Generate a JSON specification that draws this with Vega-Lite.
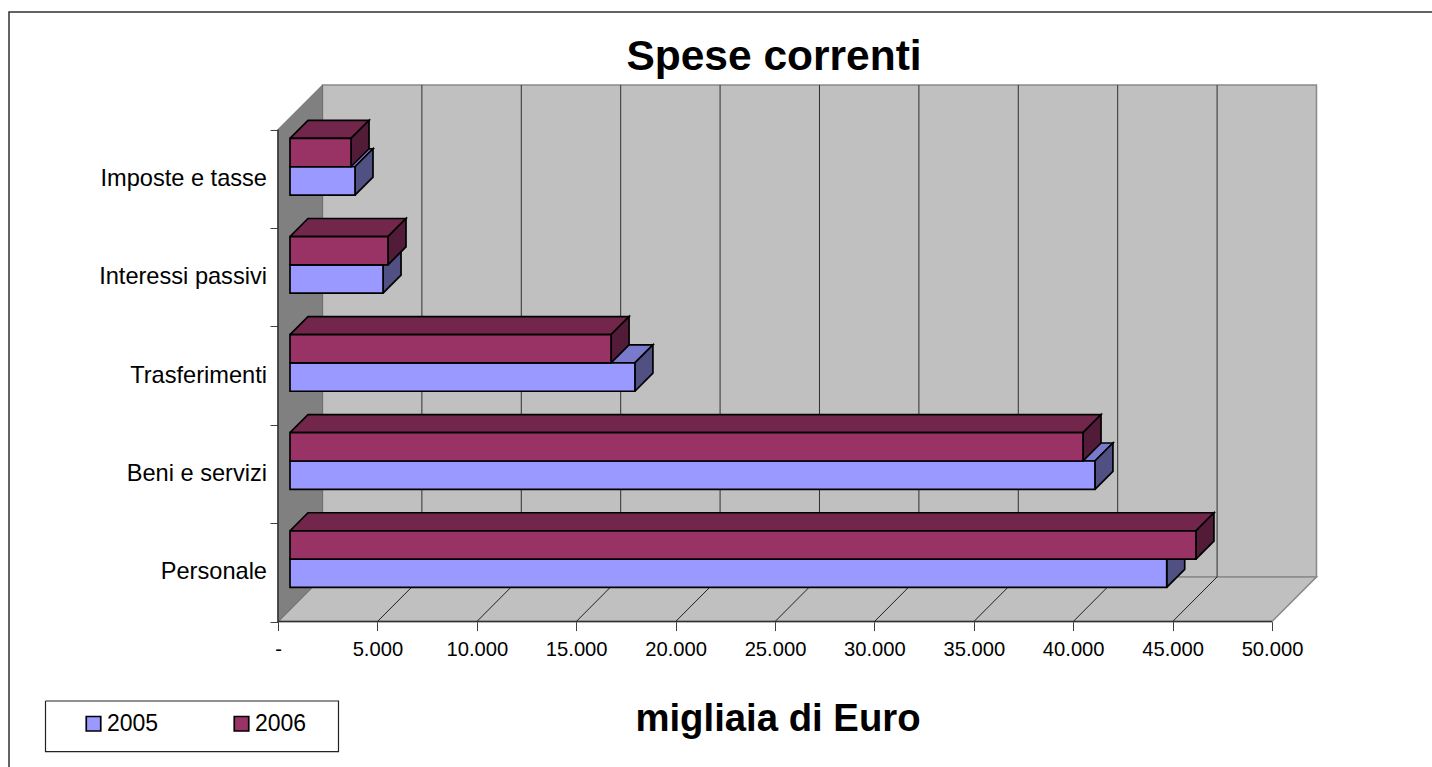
{
"$schema":"https://vega.github.io/schema/vega-lite/v6.json",
"width":1423,"height":755,
"autosize":{"type":"none"},
"padding":{"left":9,"top":12,"right":0,"bottom":0},
"background":"white",
"config":{"view":{"stroke":null},"font":"Liberation Sans"},
"title":{"text":"Spese correnti","font":"Liberation Sans","fontSize":42.5,"fontWeight":"bold","color":"#000000","anchor":"middle","dx":53.5,"offset":-103,"baseline":"alphabetic"},
"datasets":{
"pareti":[
{"parete":"fondo","k":0,"x":2238,"y":0.4545},{"parete":"fondo","k":1,"x":52238,"y":0.4545},{"parete":"fondo","k":2,"x":52238,"y":5.452},{"parete":"fondo","k":3,"x":2238,"y":5.452},{"parete":"fondo","k":4,"x":2238,"y":0.4545},
{"parete":"pavimento","k":0,"x":0,"y":0},{"parete":"pavimento","k":1,"x":2238,"y":0.4545},{"parete":"pavimento","k":2,"x":52238,"y":0.4545},{"parete":"pavimento","k":3,"x":50000,"y":0},{"parete":"pavimento","k":4,"x":0,"y":0},
{"parete":"sinistra","k":0,"x":0,"y":0},{"parete":"sinistra","k":1,"x":2238,"y":0.4545},{"parete":"sinistra","k":2,"x":2238,"y":5.452},{"parete":"sinistra","k":3,"x":0,"y":5},{"parete":"sinistra","k":4,"x":0,"y":0}
],
"bordi":[
{"bordo":"assi","k":0,"x":0,"y":5},{"bordo":"assi","k":1,"x":0,"y":0},{"bordo":"assi","k":2,"x":50000,"y":0},
{"bordo":"cornice","k":0,"x":-13531,"y":-1.4773},{"bordo":"cornice","k":1,"x":-13531,"y":6.194},{"bordo":"cornice","k":2,"x":58048,"y":6.194}
],
"riquadro":[
{"bordo":"legenda","k":0,"x":-11695,"y":-0.8067},{"bordo":"legenda","k":1,"x":3043,"y":-0.8067},{"bordo":"legenda","k":2,"x":3043,"y":-1.322},{"bordo":"legenda","k":3,"x":-11695,"y":-1.322},{"bordo":"legenda","k":4,"x":-11695,"y":-0.8067}
],
"griglia":[{"v":5000},{"v":10000},{"v":15000},{"v":20000},{"v":25000},{"v":30000},{"v":35000},{"v":40000},{"v":45000}],
"barre":[
{"categoria":"Personale","anno":2005,"valore":44100},{"categoria":"Personale","anno":2006,"valore":45570},
{"categoria":"Beni e servizi","anno":2005,"valore":40490},{"categoria":"Beni e servizi","anno":2006,"valore":39890},
{"categoria":"Trasferimenti","anno":2005,"valore":17350},{"categoria":"Trasferimenti","anno":2006,"valore":16150},
{"categoria":"Interessi passivi","anno":2005,"valore":4680},{"categoria":"Interessi passivi","anno":2006,"valore":4930},
{"categoria":"Imposte e tasse","anno":2005,"valore":3270},{"categoria":"Imposte e tasse","anno":2006,"valore":3070}
]},
"data":{"name":"barre"},
"transform":[
{"calculate":"indexof(['Personale','Beni e servizi','Trasferimenti','Interessi passivi','Imposte e tasse'],datum.categoria)","as":"c"},
{"calculate":"603.6","as":"xa"},
{"calculate":"603.6+datum.valore","as":"xb"},
{"calculate":"datum.c*0.9966+0.3476+(datum.anno==2006?0.2876:0)","as":"yb"},
{"calculate":"datum.yb+0.2876","as":"yt"}
],
"encoding":{
"x":{"field":"x","type":"quantitative","scale":{"domain":[-13531,58048],"nice":false,"zero":false},
"axis":{"orient":"bottom","offset":-145.4,"values":[0,5000,10000,15000,20000,25000,30000,35000,40000,45000,50000],"grid":false,"domain":false,"tickSize":9,"tickColor":"#404040","tickWidth":1,"labelFontSize":20.2,"labelFont":"Liberation Sans","labelColor":"#000000","labelPadding":9,"labelFlush":false,"labelOverlap":false,"labelExpr":"datum.value===0?'-':replace(format(datum.value,','),',','.')","title":"migliaia di Euro","titleFont":"Liberation Sans","titleFontSize":38.3,"titleFontWeight":"bold","titleColor":"#000000","titleAnchor":"middle","titleAlign":"center","titleBaseline":"alphabetic","titleX":768.5,"titleY":109}},
"y":{"field":"y","type":"quantitative","scale":{"domain":[-1.4773,6.194],"nice":false,"zero":false},
"axis":{"orient":"left","offset":-269,"values":[0,1,2,3,4,5],"grid":false,"domain":false,"labels":false,"tickSize":8,"tickColor":"#404040","tickWidth":1,"title":null}}
},
"layer":[
{"data":{"name":"pareti"},"transform":[{"filter":"datum.parete!='sinistra'"}],"mark":{"type":"line","fill":"#C0C0C0","stroke":"#8a8a8a","strokeWidth":1.5},"encoding":{"detail":{"field":"parete"},"order":{"field":"k"}}},
{"data":{"name":"pareti"},"transform":[{"filter":"datum.parete=='sinistra'"}],"mark":{"type":"line","fill":"#808080","stroke":"#707070","strokeWidth":1},"encoding":{"order":{"field":"k"}}},
{"data":{"name":"griglia"},"transform":[{"calculate":"datum.v+2238","as":"x"},{"calculate":"0.4545","as":"y"},{"calculate":"5.452","as":"ys"}],"mark":{"type":"rule","stroke":"#303030","strokeWidth":1},"encoding":{"y2":{"field":"ys"}}},
{"data":{"name":"griglia"},"transform":[{"calculate":"[datum.v,datum.v+2238]","as":"x"},{"calculate":"[0,0.4545]","as":"y"},{"calculate":"[0,1]","as":"k"},{"flatten":["x","y","k"]}],"mark":{"type":"line","stroke":"#202020","strokeWidth":1},"encoding":{"detail":{"field":"v"},"order":{"field":"k"}}},
{"data":{"name":"bordi"},"mark":{"type":"line","stroke":"#303030","strokeWidth":1.5},"encoding":{"detail":{"field":"bordo"},"order":{"field":"k"}}},
{"data":{"name":"riquadro"},"mark":{"type":"line","fill":"#FFFFFF","stroke":"#222222","strokeWidth":1.2},"encoding":{"order":{"field":"k"}}},
{"transform":[{"filter":"datum.anno==2005"},{"calculate":"0","as":"x"},{"calculate":"datum.c+0.5","as":"y"}],"mark":{"type":"text","align":"right","baseline":"middle","dx":-11,"fontSize":23.6,"font":"Liberation Sans","color":"#000000"},"encoding":{"text":{"field":"categoria"}}},
{"transform":[{"filter":"datum.anno==2005"}],"layer":[
{"transform":[{"calculate":"[datum.xa,datum.xb,datum.xb+905,datum.xa+905,datum.xa]","as":"x"},{"calculate":"[datum.yt,datum.yt,datum.yt+0.183,datum.yt+0.183,datum.yt]","as":"y"},{"calculate":"[0,1,2,3,4]","as":"k"},{"flatten":["x","y","k"]}],"mark":{"type":"line","fill":"#7A7ACC","stroke":"#000000","strokeWidth":1.7},"encoding":{"detail":{"field":"categoria"},"order":{"field":"k"}}},
{"transform":[{"calculate":"[datum.xb,datum.xb+905,datum.xb+905,datum.xb,datum.xb]","as":"x"},{"calculate":"[datum.yb,datum.yb+0.183,datum.yt+0.183,datum.yt,datum.yb]","as":"y"},{"calculate":"[0,1,2,3,4]","as":"k"},{"flatten":["x","y","k"]}],"mark":{"type":"line","fill":"#505082","stroke":"#000000","strokeWidth":1.7},"encoding":{"detail":{"field":"categoria"},"order":{"field":"k"}}},
{"transform":[{"calculate":"datum.xa","as":"x"},{"calculate":"datum.yb","as":"y"}],"mark":{"type":"rect","stroke":"#000000","strokeWidth":1.7},"encoding":{"x2":{"field":"xb"},"y2":{"field":"yt"},"fill":{"field":"anno","type":"nominal","scale":{"domain":[2005,2006],"range":["#9999FF","#993366"]},"legend":{"orient":"none","legendX":73,"legendY":700,"direction":"horizontal","columns":2,"title":null,"symbolType":"square","symbolSize":210,"symbolStrokeColor":"#222222","symbolStrokeWidth":1.7,"labelFontSize":23,"labelFont":"Liberation Sans","labelColor":"#000000","labelOffset":2,"columnPadding":71,"padding":0}}}}
]},
{"transform":[{"filter":"datum.anno==2006"}],"layer":[
{"transform":[{"calculate":"[datum.xa,datum.xb,datum.xb+905,datum.xa+905,datum.xa]","as":"x"},{"calculate":"[datum.yt,datum.yt,datum.yt+0.183,datum.yt+0.183,datum.yt]","as":"y"},{"calculate":"[0,1,2,3,4]","as":"k"},{"flatten":["x","y","k"]}],"mark":{"type":"line","fill":"#72264C","stroke":"#000000","strokeWidth":1.7},"encoding":{"detail":{"field":"categoria"},"order":{"field":"k"}}},
{"transform":[{"calculate":"[datum.xb,datum.xb+905,datum.xb+905,datum.xb,datum.xb]","as":"x"},{"calculate":"[datum.yb,datum.yb+0.183,datum.yt+0.183,datum.yt,datum.yb]","as":"y"},{"calculate":"[0,1,2,3,4]","as":"k"},{"flatten":["x","y","k"]}],"mark":{"type":"line","fill":"#521C38","stroke":"#000000","strokeWidth":1.7},"encoding":{"detail":{"field":"categoria"},"order":{"field":"k"}}},
{"transform":[{"calculate":"datum.xa","as":"x"},{"calculate":"datum.yb","as":"y"}],"mark":{"type":"rect","stroke":"#000000","strokeWidth":1.7},"encoding":{"x2":{"field":"xb"},"y2":{"field":"yt"},"fill":{"field":"anno","type":"nominal","scale":{"domain":[2005,2006],"range":["#9999FF","#993366"]}}}}
]}
]
}
